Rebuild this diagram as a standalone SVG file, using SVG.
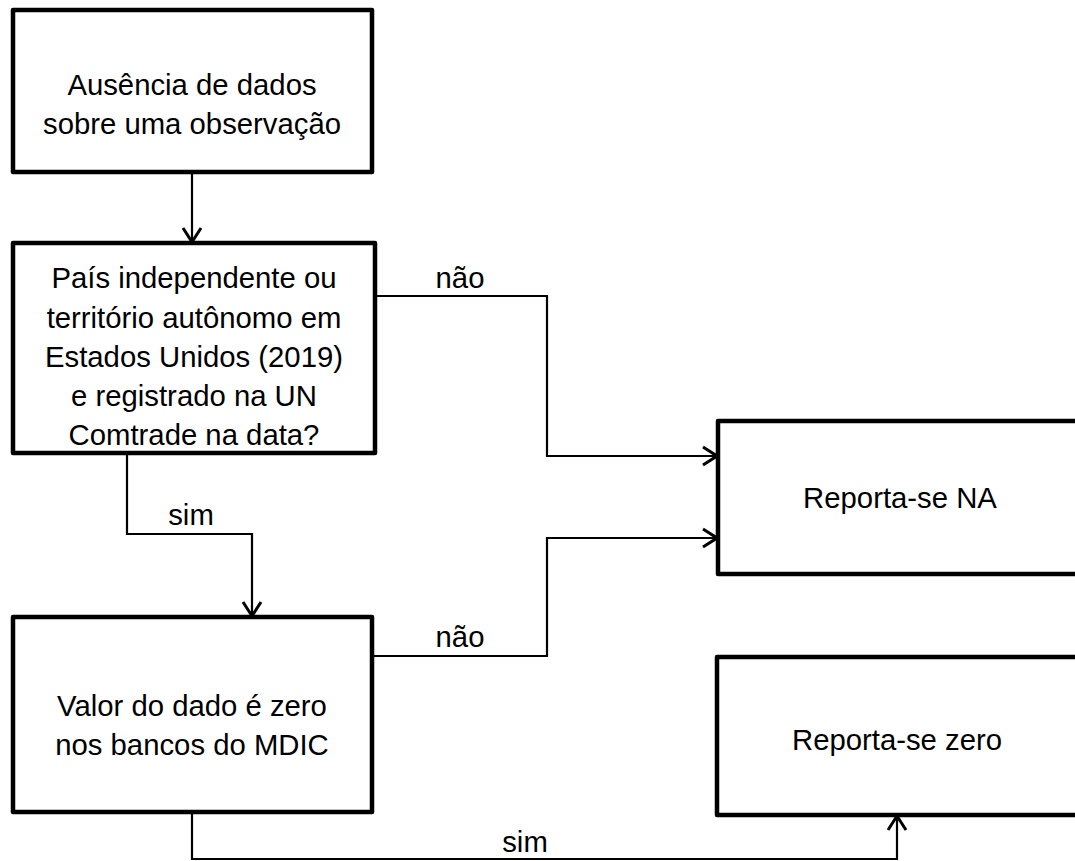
<svg xmlns="http://www.w3.org/2000/svg" width="1075" height="861" viewBox="0 0 1075 861">
<style>
.box{fill:#fff;stroke:#000;stroke-width:4.5;stroke-linejoin:round}
.t{font-family:"Liberation Sans",Arial,sans-serif;font-size:29.3px;fill:#000;text-anchor:middle}
.c{fill:none;stroke:#000;stroke-width:2.2}
</style>
<defs>
<marker id="ah" viewBox="0 0 16 22" refX="15" refY="11" markerWidth="16" markerHeight="22" markerUnits="userSpaceOnUse" orient="auto">
<path d="M1,2 L15,11 L1,20" fill="none" stroke="#000" stroke-width="3"/>
</marker>
</defs>
<rect width="1075" height="861" fill="#fff"/>
<g id="connectors">
<path class="c" d="M192,172 V242" marker-end="url(#ah)"/>
<path class="c" d="M375,296 H547 V456 H717" marker-end="url(#ah)"/>
<path class="c" d="M127,452 V534 H252 V616" marker-end="url(#ah)"/>
<path class="c" d="M372,656 H547 V538 H717" marker-end="url(#ah)"/>
<path class="c" d="M192,812 V859 H897 V816" marker-end="url(#ah)"/>
<text class="t" x="460" y="288">não</text>
<text class="t" x="191" y="525">sim</text>
<text class="t" x="460" y="647">não</text>
<text class="t" x="525" y="852">sim</text>
</g>
<g id="n1">
<rect class="box" x="13" y="10" width="359" height="162"/>
<text class="t" x="192" y="95">Ausência de dados</text>
<text class="t" x="192" y="134">sobre uma observação</text>
</g>
<g id="n2">
<rect class="box" x="13" y="243" width="362" height="210"/>
<text class="t" x="194" y="288">País independente ou</text>
<text class="t" x="194" y="328">território autônomo em</text>
<text class="t" x="194" y="367">Estados Unidos (2019)</text>
<text class="t" x="194" y="406">e registrado na UN</text>
<text class="t" x="194" y="445">Comtrade na data?</text>
</g>
<g id="n3">
<rect class="box" x="13" y="617" width="359" height="195"/>
<text class="t" x="192" y="716">Valor do dado é zero</text>
<text class="t" x="192" y="755">nos bancos do MDIC</text>
</g>
<g id="n4">
<rect class="box" x="718" y="421" width="370" height="153"/>
<text class="t" x="900" y="508">Reporta-se NA</text>
</g>
<g id="n5">
<rect class="box" x="717" y="657" width="370" height="158"/>
<text class="t" x="897" y="750">Reporta-se zero</text>
</g>
</svg>
